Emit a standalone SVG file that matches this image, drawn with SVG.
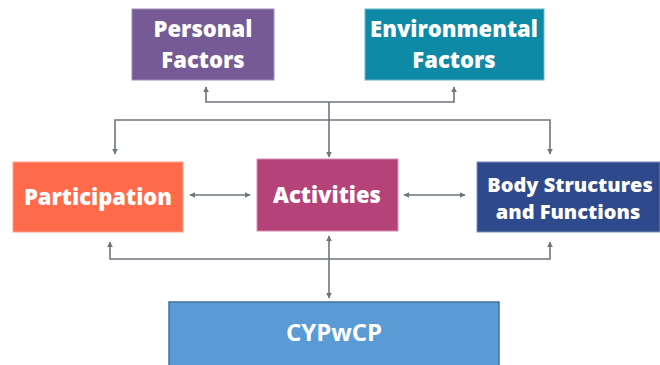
<svg xmlns="http://www.w3.org/2000/svg" width="660" height="365" viewBox="0 0 660 365">
<defs>
<style>
.lbl{font-family:"Open Sans","Liberation Sans",sans-serif;font-weight:800;fill:#fff;text-anchor:middle}
.cn{stroke:#6d767c;stroke-width:1.6;fill:none}
</style>
<marker id="ah" viewBox="0 0 10 10" refX="9" refY="5" markerWidth="6" markerHeight="6" orient="auto-start-reverse" markerUnits="userSpaceOnUse">
<path d="M0,0 L10,5 L0,10 z" fill="#6d767c"/>
</marker>
</defs>
<rect width="660" height="365" fill="#fff"/>
<g id="connectors">
<polyline class="cn" points="206,87 206,102 454,102 454,87" marker-start="url(#ah)" marker-end="url(#ah)"/>
<line class="cn" x1="329" y1="102" x2="329" y2="157" marker-end="url(#ah)"/>
<polyline class="cn" points="115,154 115,120 550,120 550,154" marker-start="url(#ah)" marker-end="url(#ah)"/>
<line class="cn" x1="190" y1="195" x2="250" y2="195" marker-start="url(#ah)" marker-end="url(#ah)"/>
<line class="cn" x1="404" y1="195" x2="465" y2="195" marker-start="url(#ah)" marker-end="url(#ah)"/>
<polyline class="cn" points="110,242 110,259 550,259 550,242" marker-start="url(#ah)" marker-end="url(#ah)"/>
<line class="cn" x1="329" y1="236" x2="329" y2="298" marker-start="url(#ah)" marker-end="url(#ah)"/>
</g>
<g id="personal">
<rect x="132" y="9" width="142" height="71" fill="#765a96" stroke="#a08cb8" stroke-width="1"/>
<text class="lbl" x="203" y="37" font-size="22">Personal</text>
<text class="lbl" x="203" y="68" font-size="22">Factors</text>
</g>
<g id="environmental">
<rect x="365" y="9" width="179" height="71" fill="#0e8aa6" stroke="#6ab5c8" stroke-width="1"/>
<text class="lbl" x="454" y="37" font-size="22">Environmental</text>
<text class="lbl" x="454" y="68" font-size="22">Factors</text>
</g>
<g id="participation">
<rect x="13" y="162" width="170" height="70" fill="#ff6b4a" stroke="#ffa08a" stroke-width="1"/>
<text class="lbl" x="98" y="205" font-size="22">Participation</text>
</g>
<g id="activities">
<rect x="257" y="159" width="141" height="72" fill="#b5437a" stroke="#d68cb0" stroke-width="1"/>
<text class="lbl" x="327" y="203" font-size="22">Activities</text>
</g>
<g id="body">
<rect x="477" y="162" width="183" height="70" fill="#2e4a8c" stroke="#7d8fb8" stroke-width="1"/>
<text class="lbl" x="570" y="192" font-size="20">Body Structures</text>
<text class="lbl" x="568" y="219" font-size="20">and Functions</text>
</g>
<g id="cypwcp">
<rect x="169" y="302" width="330" height="70" fill="#5b9bd5" stroke="#41719c" stroke-width="1.5"/>
<text x="334" y="341" font-size="24" font-family="'Open Sans','Liberation Sans',sans-serif" font-weight="bold" fill="#fff" text-anchor="middle">CYPwCP</text>
</g>
</svg>
